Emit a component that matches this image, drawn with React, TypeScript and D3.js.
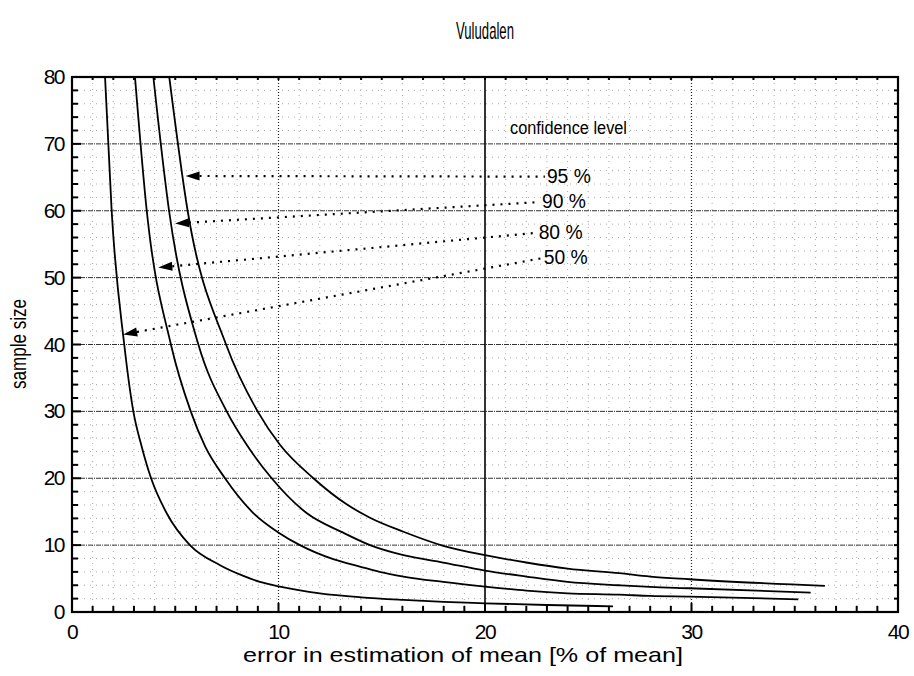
import React from "react";
import * as d3 from "d3";

const W = 914;
const H = 676;

const title = "Vuludalen";
const xLabel = "error in estimation of mean [% of mean]";
const yLabel = "sample size";
const legendTitle = "confidence level";

const xTickValues = [0, 10, 20, 30, 40];
const yTickValues = [0, 10, 20, 30, 40, 50, 60, 70, 80];

const levels = ["95 %", "90 %", "80 %", "50 %"];

// [error %, sample size]
const curve95: [number, number][] = [
  [4.71, 80], [5.6, 60], [7.46, 40], [8.99, 30], [10.07, 25], [11.69, 20],
  [13.3, 16.1], [14.43, 14.1], [16.05, 12.0], [17.98, 9.9], [20.0, 8.5],
  [22.0, 7.4], [24.0, 6.5], [26.5, 5.8], [28.0, 5.3], [29.9, 4.9], [36.46, 3.9],
];
const curve90: [number, number][] = [
  [3.94, 80], [4.7, 60], [6.12, 40], [7.49, 30], [8.46, 25], [9.67, 20],
  [11.36, 14.8], [13.1, 11.9], [14.43, 10.0], [16.05, 8.5], [17.98, 7.4],
  [20.0, 6.2], [22.0, 5.3], [24.0, 4.5], [26.5, 4.0], [28.0, 3.75], [29.9, 3.55],
  [35.77, 2.9],
];
const curve80: [number, number][] = [
  [3.05, 80], [3.62, 60], [4.79, 40], [5.75, 30], [6.44, 24.8], [7.41, 20],
  [8.78, 14.8], [9.99, 11.9], [11.04, 10], [12.65, 7.9], [13.94, 6.8],
  [14.9, 6.0], [16.05, 5.3], [17.98, 4.5], [20.0, 3.8], [22.0, 3.2],
  [24.0, 2.8], [26.5, 2.6], [28.0, 2.4], [29.9, 2.3], [35.17, 1.9],
];
const curve50: [number, number][] = [
  [1.6, 80], [1.92, 60], [2.53, 40], [2.97, 30], [3.37, 24.8], [3.83, 20],
  [4.58, 14.8], [5.71, 10], [7.17, 7.0], [8.3, 5.4], [9.1, 4.5], [10.07, 3.8],
  [12.0, 2.8], [14.0, 2.2], [16.05, 1.8], [18.0, 1.5], [20.0, 1.3],
  [23.0, 1.05], [26.2, 0.85],
];
const curves = [curve95, curve90, curve80, curve50];

// arrow tips (on curves) and tails (near labels), data units
const arrowTips: [number, number][] = [[5.5, 65.2], [4.99, 58.1], [4.18, 51.5], [2.48, 41.5]];
const arrowTails: [number, number][] = [[22.9, 65.1], [22.66, 61.3], [22.5, 56.7], [22.75, 52.9]];

const FONT = "'Liberation Sans', Arial, sans-serif";

export default function App() {
  const x = d3.scaleLinear().domain([0, 40]).range([72, 898]);
  const y = d3.scaleLinear().domain([0, 80]).range([612, 77]);
  const line = d3
    .line<[number, number]>()
    .x((d) => x(d[0]))
    .y((d) => y(d[1]))
    .curve(d3.curveMonotoneX);

  const minorX = d3.range(1, 40).filter((v) => v % 10 !== 0);
  const minorY = d3.range(2, 80, 2).filter((v) => v % 10 !== 0);
  const xTickAll = d3.range(0, 41);
  const yTickAll = d3.range(0, 81, 2);

  const [x0, x1] = x.range();
  const [y0, y1] = y.range();

  return (
    <svg
      width={W}
      height={H}
      style={{ position: "absolute", left: 0, top: 0, background: "#fff" }}
      fontFamily={FONT}
    >
      <rect x={0} y={0} width={W} height={H} fill="#fff" />
      {/* minor grid */}
      <g stroke="#aaa" strokeWidth={1} strokeDasharray="1 5">
        {minorX.map((v) => (
          <line key={"mx" + v} x1={x(v)} x2={x(v)} y1={y1} y2={y0} />
        ))}
        {minorY.map((v) => (
          <line key={"my" + v} x1={x0} x2={x1} y1={y(v)} y2={y(v)} />
        ))}
      </g>
      {/* major grid */}
      <g stroke="#333" strokeWidth={1}>
        {yTickValues
          .filter((v) => v > 0 && v < 80)
          .map((v) => (
            <line key={"gy" + v} x1={x0} x2={x1} y1={y(v)} y2={y(v)} strokeDasharray="5 1 1 1" />
          ))}
        {xTickValues
          .filter((v) => v > 0 && v < 40)
          .map((v) => (
            <line
              key={"gx" + v}
              x1={x(v)}
              x2={x(v)}
              y1={y1}
              y2={y0}
              strokeDasharray={v === 20 ? undefined : "1 2"}
              strokeWidth={v === 20 ? 1.6 : 1.2}
              stroke={v === 20 ? "#000" : "#222"}
            />
          ))}
      </g>
      {/* ticks */}
      <g stroke="#000" strokeWidth={2}>
        {xTickAll.map((v) => {
          const len = v % 10 === 0 ? 9 : 6;
          return (
            <g key={"tx" + v}>
              <line x1={x(v)} x2={x(v)} y1={y0} y2={y0 - len} />
              <line x1={x(v)} x2={x(v)} y1={y1} y2={y1 + 3} />
            </g>
          );
        })}
        {yTickAll.map((v) => {
          const len = v % 10 === 0 ? 9 : 6;
          return (
            <g key={"ty" + v}>
              <line x1={x0} x2={x0 + len} y1={y(v)} y2={y(v)} />
              <line x1={x1} x2={x1 - 4} y1={y(v)} y2={y(v)} />
            </g>
          );
        })}
      </g>
      {/* frame */}
      <rect x={x0} y={y1} width={x1 - x0} height={y0 - y1} fill="none" stroke="#000" strokeWidth={2.2} />

      {/* curves */}
      <g fill="none" stroke="#000" strokeWidth={1.8} strokeLinejoin="round">
        {curves.map((c, i) => (
          <path key={"c" + i} d={line(c) || ""} />
        ))}
      </g>

      {/* arrows */}
      {arrowTips.map((tip, i) => {
        const tail = arrowTails[i];
        const tx = x(tip[0]);
        const ty = y(tip[1]);
        const sx = x(tail[0]);
        const sy = y(tail[1]);
        const ang = Math.atan2(sy - ty, sx - tx);
        const L = 14;
        const hw = 4.5;
        const bx = tx + L * Math.cos(ang);
        const by = ty + L * Math.sin(ang);
        const px = -Math.sin(ang) * hw;
        const py = Math.cos(ang) * hw;
        return (
          <g key={"a" + i}>
            <line
              x1={bx}
              y1={by}
              x2={sx}
              y2={sy}
              stroke="#000"
              strokeWidth={2.2}
              strokeDasharray="2 6"
            />
            <polygon
              points={`${tx},${ty} ${bx + px},${by + py} ${bx - px},${by - py}`}
              fill="#000"
            />
            <text
              x={sx + 2}
              y={sy + 6}
              fontSize={20}
              textLength={44}
              lengthAdjust="spacingAndGlyphs"
              fill="#000"
            >
              {levels[i]}
            </text>
          </g>
        );
      })}

      <text x={510} y={134} fontSize={18} textLength={117} lengthAdjust="spacingAndGlyphs">
        {legendTitle}
      </text>

      {/* tick labels */}
      {xTickValues.map((v) => (
        <text key={"xl" + v} x={x(v)} y={y0 + 27} fontSize={21} textAnchor="middle" letterSpacing={-1.5}>
          {v}
        </text>
      ))}
      {yTickValues.map((v) => (
        <text key={"yl" + v} x={x0 - 8} y={y(v) + 7} fontSize={21} textAnchor="end" letterSpacing={-1.5}>
          {v}
        </text>
      ))}

      {/* title and axis labels */}
      <text x={485} y={39} fontSize={24} textAnchor="middle" textLength={58} lengthAdjust="spacingAndGlyphs">
        {title}
      </text>
      <text x={463} y={662} fontSize={21} textAnchor="middle" textLength={440} lengthAdjust="spacingAndGlyphs">
        {xLabel}
      </text>
      <text
        transform={`translate(26, 344) rotate(-90)`}
        fontSize={22}
        textAnchor="middle"
        textLength={90}
        lengthAdjust="spacingAndGlyphs"
      >
        {yLabel}
      </text>
    </svg>
  );
}
